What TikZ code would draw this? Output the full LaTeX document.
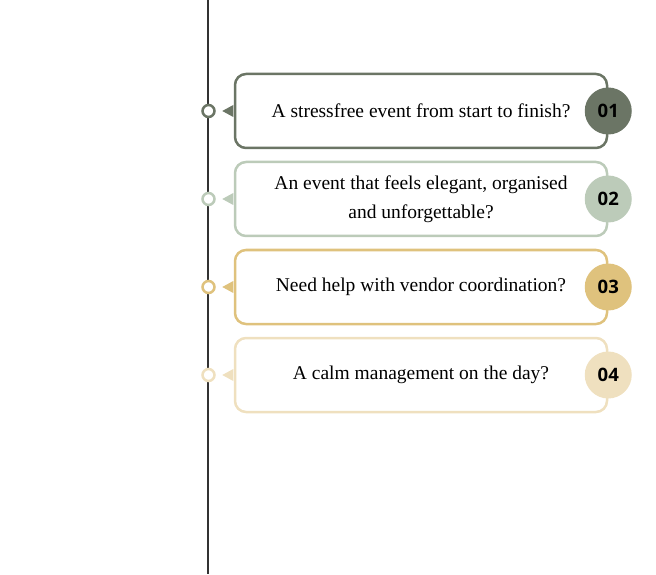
\documentclass[tikz,border=0pt]{standalone}
\usepackage{fontspec}
\setmainfont{Liberation Serif}
\newfontfamily\numfont{Open Sans}
\usetikzlibrary{positioning}
\definecolor{sagedark}{HTML}{6B7565}
\definecolor{sagelight}{HTML}{BCCBB9}
\definecolor{golddark}{HTML}{DFC27D}
\definecolor{goldlight}{HTML}{EFE0BF}
\definecolor{linegray}{HTML}{333333}
\tikzset{every picture/.style={line width=0.75pt}}
\tikzset{
  qbox/.style ={rectangle, rounded corners=11pt, draw=#1, line width=2.5pt, fill=white,
                minimum width=372pt, minimum height=74pt, align=center,
                font=\fontsize{19.5}{29}\selectfont},
  qdot/.style ={circle, draw=#1, line width=2.5pt, fill=white, minimum size=12pt, inner sep=0pt},
  qnum/.style ={circle, fill=#1, minimum size=47pt, inner sep=0pt,
                font=\numfont\bfseries\fontsize{18.5}{20}\selectfont},
  qtip/.style ={fill=#1},
  qline/.style={draw=linegray, line width=1.4pt},
}

\begin{document}
\begin{tikzpicture}[x=1pt, y=1pt]
        \useasboundingbox (0,0) rectangle (656,574);
        \coordinate (ltop) at (208,574);
        \coordinate (lbot) at (208,0);
        \draw[qline] (ltop) -- (lbot);
        \node[qbox=sagedark] (box1) at (421,463) {A stressfree event from start to finish?};
        \node[qbox=sagelight, below=11.5pt of box1] (box2) {An event that feels elegant, organised\\and unforgettable?};
        \node[qbox=golddark, below=11.5pt of box2] (box3) {Need help with vendor coordination?};
        \node[qbox=goldlight, below=11.5pt of box3] (box4) {A calm management on the day?};
        \node[qdot=sagedark, left=18pt of box1] (dot1) {};
        \node[qdot=sagelight, left=18pt of box2] (dot2) {};
        \node[qdot=golddark, left=18pt of box3] (dot3) {};
        \node[qdot=goldlight, left=18pt of box4] (dot4) {};
        \fill[qtip=sagedark] (box1.west) ++(-0.5pt,6pt) -- ++(-11pt,-6pt) -- ++(11pt,-6pt) -- cycle;
        \fill[qtip=sagelight] (box2.west) ++(-0.5pt,6pt) -- ++(-11pt,-6pt) -- ++(11pt,-6pt) -- cycle;
        \fill[qtip=golddark] (box3.west) ++(-0.5pt,6pt) -- ++(-11pt,-6pt) -- ++(11pt,-6pt) -- cycle;
        \fill[qtip=goldlight] (box4.west) ++(-0.5pt,6pt) -- ++(-11pt,-6pt) -- ++(11pt,-6pt) -- cycle;
        \node[qnum=sagedark] (num1) at (box1.east) {01};
        \node[qnum=sagelight] (num2) at (box2.east) {02};
        \node[qnum=golddark] (num3) at (box3.east) {03};
        \node[qnum=goldlight] (num4) at (box4.east) {04};
    \end{tikzpicture}
\end{document}
